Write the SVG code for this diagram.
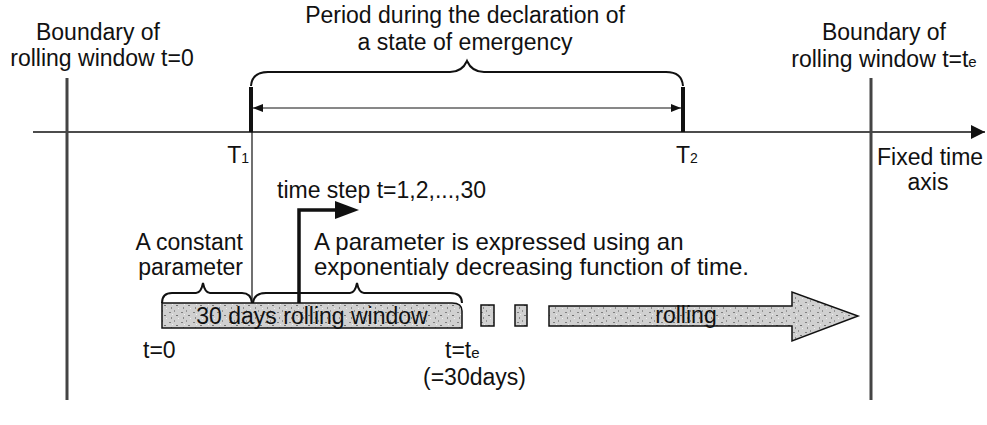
<svg xmlns="http://www.w3.org/2000/svg" width="987" height="425" viewBox="0 0 987 425">
<style>
text{font-family:"Liberation Sans",Arial,sans-serif;font-size:23px;fill:#111}
.mid{text-anchor:middle}
.end{text-anchor:end}
.big{font-size:24px}
.ln{stroke:#111;fill:none}
.brace{stroke:#111;stroke-width:2;fill:none}
.bound{stroke:#444;stroke-width:3;fill:none}
.tex{fill:url(#speck);stroke:#111;stroke-width:1.5}
</style>
<defs>
<pattern id="speck" width="12" height="10" patternUnits="userSpaceOnUse">
<rect width="12" height="10" fill="#d0d0d0"/>
<rect x="1" y="2" width="2" height="1" fill="#808080"/>
<rect x="6" y="0" width="1" height="2" fill="#959595"/>
<rect x="8" y="5" width="2" height="1" fill="#707070"/>
<rect x="3" y="7" width="1" height="2" fill="#8a8a8a"/>
<rect x="10" y="8" width="1" height="1" fill="#f0f0f0"/>
<rect x="4" y="4" width="1" height="1" fill="#f2f2f2"/>
</pattern>
<marker id="ah" viewBox="0 0 10 10" refX="10" refY="5" markerWidth="10" markerHeight="10" markerUnits="userSpaceOnUse" orient="auto-start-reverse">
<path d="M0,1 L10,5 L0,9 Z" fill="#111"/>
</marker>
<marker id="ahBig" viewBox="0 0 10 10" refX="10" refY="5" markerWidth="18" markerHeight="14" markerUnits="userSpaceOnUse" orient="auto">
<path d="M0,0 L10,5 L0,10 Z" fill="#111"/>
</marker>
</defs>

<g id="connectors">
<line id="axis" class="ln" x1="33" y1="132" x2="985" y2="132" stroke-width="1.5" marker-end="url(#ahBig)"/>
<line id="period-arrow" class="ln" x1="253" y1="108" x2="681" y2="108" stroke-width="1" marker-start="url(#ah)" marker-end="url(#ah)"/>
<line id="t1-thin" class="ln" x1="252" y1="132" x2="252" y2="303" stroke-width="1.2"/>
<polyline id="step-arrow" class="ln" points="299,303 299,210 340,210" stroke-width="3.5"/>
<path d="M335,201 L359,210 L335,219 Z" fill="#111"/>
</g>

<g id="boundary-left">
<line class="bound" x1="67" y1="78" x2="67" y2="400"/>
<text class="mid" x="98" y="40">Boundary of</text>
<text class="mid" x="102" y="66">rolling window t=0</text>
</g>

<g id="boundary-right">
<line class="bound" x1="871" y1="78" x2="871" y2="400"/>
<text class="mid" x="884" y="40">Boundary of</text>
<text class="mid" x="884" y="67">rolling window t=t<tspan font-size="15">e</tspan></text>
</g>

<g id="period">
<text class="mid" x="465" y="23">Period during the declaration of</text>
<text class="mid" x="465" y="50">a state of emergency</text>
<path class="brace" d="M251,86 Q252,72 268,72 L450,72 Q462,72 467,61 Q472,72 484,72 L666,72 Q682,72 683,86"/>
</g>

<g id="T1">
<line class="ln" x1="251" y1="87" x2="251" y2="132" stroke-width="4"/>
<text class="end" x="249" y="163">T<tspan font-size="14">1</tspan></text>
</g>

<g id="T2">
<line class="ln" x1="683" y1="87" x2="683" y2="132" stroke-width="4"/>
<text x="676" y="163">T<tspan font-size="14">2</tspan></text>
</g>

<g id="axis-label">
<text x="877" y="165">Fixed time</text>
<text class="mid" x="928" y="190">axis</text>
</g>

<g id="time-step">
<text x="277" y="198">time step t=1,2,...,30</text>
</g>

<g id="constant-param">
<text class="end" x="243" y="250">A constant</text>
<text class="end" x="243" y="275">parameter</text>
<path class="brace" d="M162,303 Q162,293 172,293 L196,293 Q201,293 203,283 Q205,293 210,293 L242,293 Q251,293 252,303"/>
</g>

<g id="exp-param">
<text class="big" x="314" y="250">A parameter is expressed using an</text>
<text class="big" x="314" y="275">exponentialy decreasing function of time.</text>
<path class="brace" d="M253,303 Q254,293 266,293 L350,293 Q355,293 357,283 Q359,293 364,293 L450,293 Q462,293 462,303"/>
</g>

<g id="window">
<path class="tex" d="M162,303 L452,303 Q462,303 462,311 L462,328 L162,328 Z"/>
<text class="mid" x="312" y="324" font-size="25">30 days rolling window</text>
<text x="143" y="358">t=0</text>
<text x="445" y="358">t=t<tspan font-size="15">e</tspan></text>
<text x="423" y="385">(=30days)</text>
</g>

<g id="rolling">
<rect class="tex" x="481" y="305" width="13" height="21" stroke-width="1"/>
<rect class="tex" x="515" y="305" width="12" height="21" stroke-width="1"/>
<path class="tex" d="M549,306 L792,306 L792,292 L858,316 L792,341 L792,326 L549,326 Z" stroke-width="1"/>
<text class="mid" x="686" y="323">rolling</text>
</g>
</svg>
